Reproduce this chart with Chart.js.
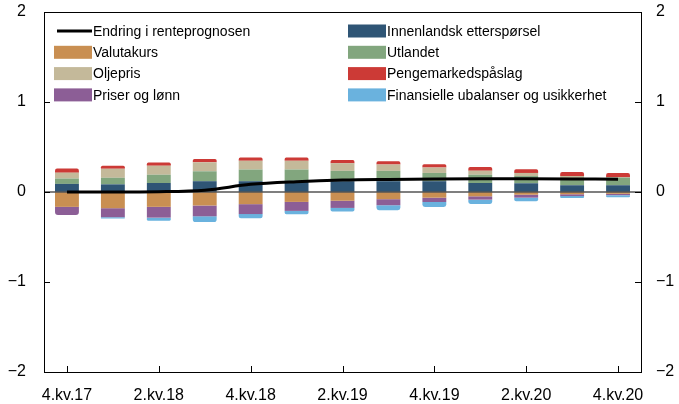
<!DOCTYPE html>
<html>
<head>
<meta charset="utf-8">
<script src="https://cdn.jsdelivr.net/npm/chart.js@4/dist/chart.umd.min.js"></script>
<style>
	body { margin: 0; background: #fff; }
	canvas { display: block; }
</style>
</head>
<body>
<canvas id="chart" width="679" height="404"></canvas>
<script>
const quarters = ['4.kv.17', '1.kv.18', '2.kv.18', '3.kv.18', '4.kv.18', '1.kv.19', '2.kv.19', '3.kv.19', '4.kv.19', '1.kv.20', '2.kv.20', '3.kv.20', '4.kv.20']

const renteprognose = [0, 0, 0.003, 0.02, 0.085, 0.115, 0.133, 0.14, 0.144, 0.146, 0.146, 0.145, 0.143]
const innenlandsk = [0.09, 0.085, 0.1, 0.12, 0.12, 0.125, 0.12, 0.12, 0.12, 0.1, 0.097, 0.075, 0.075]
const utlandet = [0.06, 0.073, 0.092, 0.11, 0.13, 0.125, 0.115, 0.115, 0.092, 0.092, 0.08, 0.078, 0.085]
const oljepris = [0.065, 0.1, 0.1, 0.1, 0.097, 0.097, 0.085, 0.07, 0.06, 0.045, 0.035, 0.025, 0.005]
const pengemarked = [0.045, 0.035, 0.035, 0.037, 0.035, 0.035, 0.035, 0.037, 0.037, 0.04, 0.04, 0.045, 0.045]
const valutakurs = [-0.165, -0.18, -0.165, -0.15, -0.135, -0.11, -0.097, -0.08, -0.063, -0.048, -0.03, -0.025, -0.02]
const priser = [-0.09, -0.1, -0.12, -0.12, -0.11, -0.1, -0.08, -0.067, -0.048, -0.037, -0.033, -0.02, -0.015]
const finansielle = [0, -0.015, -0.035, -0.063, -0.048, -0.037, -0.04, -0.055, -0.055, -0.048, -0.04, -0.022, -0.022]

const yTicks = [-2, -1, 0, 1, 2]

const font = 'Liberation Sans, Arial, sans-serif'

function bar(label, data, color){
	return {
		type: 'bar',
		label: label,
		data: data,
		backgroundColor: color,
		borderRadius: 3,
		barPercentage: 0.52,
		categoryPercentage: 1,
		stack: 'bars',
		order: 1
	}
}

const datasets = [
	{
		type: 'line',
		label: 'Endring i renteprognosen',
		data: renteprognose,
		borderColor: '#000',
		backgroundColor: '#000',
		borderWidth: 3,
		pointRadius: 0,
		cubicInterpolationMode: 'monotone',
		stack: 'line',
		order: 0
	},
	bar('Innenlandsk etterspørsel', innenlandsk, '#2f5575'),
	bar('Utlandet', utlandet, '#82a67e'),
	bar('Oljepris', oljepris, '#c4b99a'),
	bar('Pengemarkedspåslag', pengemarked, '#cc3a36'),
	bar('Valutakurs', valutakurs, '#c98f52'),
	bar('Priser og lønn', priser, '#8c5e96'),
	bar('Finansielle ubalanser og usikkerhet', finansielle, '#6ab2de')
]

const legendCols = [
	['Endring i renteprognosen', 'Valutakurs', 'Oljepris', 'Priser og lønn'],
	['Innenlandsk etterspørsel', 'Utlandet', 'Pengemarkedspåslag', 'Finansielle ubalanser og usikkerhet']
]

const minus = v => String(v).replace('-', '\u2212')

const framePlugin = {
	id: 'frame',
	beforeDatasetDraw(chart, args){
		if(args.index != 0) return
		const ctx = chart.ctx
		const a = chart.chartArea
		const y0 = chart.scales.y.getPixelForValue(0)
		ctx.save()
		ctx.strokeStyle = '#555'
		ctx.lineWidth = 1.5
		ctx.beginPath()
		ctx.moveTo(a.left, y0)
		ctx.lineTo(a.right, y0)
		ctx.stroke()
		ctx.restore()
	},
	afterDraw(chart){
		const ctx = chart.ctx
		const a = chart.chartArea
		const x = chart.scales.x
		const y = chart.scales.y
		ctx.save()
		ctx.strokeStyle = '#000'
		ctx.lineWidth = 1
		ctx.strokeRect(Math.round(a.left) + 0.5, Math.round(a.top) + 0.5, Math.round(a.right - a.left), Math.round(a.bottom - a.top))
		ctx.beginPath()
		yTicks.forEach(v => {
			const py = Math.round(y.getPixelForValue(v)) + 0.5
			ctx.moveTo(a.left, py)
			ctx.lineTo(a.left + 6, py)
			ctx.moveTo(a.right, py)
			ctx.lineTo(a.right - 6, py)
		})
		quarters.forEach((q, i) => {
			if(i % 2 == 0){
				const px = Math.round(x.getPixelForValue(i)) + 0.5
				ctx.moveTo(px, a.bottom)
				ctx.lineTo(px, a.bottom - 6)
			}
		})
		ctx.stroke()

		ctx.font = '14px ' + font
		ctx.textBaseline = 'middle'
		ctx.fillStyle = '#000'
		const colX = [54, 348]
		legendCols.forEach((col, c) => {
			col.forEach((name, r) => {
				const ds = chart.data.datasets.find(d => d.label == name)
				const cy = 31 + r * 21.3
				if(ds.type == 'line'){
					ctx.strokeStyle = ds.borderColor
					ctx.lineWidth = 3
					ctx.beginPath()
					ctx.moveTo(colX[c] + 3, cy)
					ctx.lineTo(colX[c] + 38, cy)
					ctx.stroke()
				} else {
					ctx.fillStyle = ds.backgroundColor
					ctx.fillRect(colX[c], cy - 6.5, 38, 13)
				}
				ctx.fillStyle = '#000'
				ctx.fillText(name, colX[c] + 39, cy + 1)
			})
		})
		ctx.restore()
	}
}

const yTickOpts = {
	stepSize: 1,
	color: '#000',
	font: { size: 16, family: font },
	callback: v => minus(v)
}

function fitY(width){
	return s => {
		s.width = width
		s.paddingTop = 0
		s.paddingBottom = 0
	}
}

new Chart(document.getElementById('chart'), {
	data: {
		labels: quarters,
		datasets: datasets
	},
	options: {
		responsive: false,
		animation: false,
		layout: { padding: { top: 12 } },
		plugins: {
			legend: { display: false },
			tooltip: { enabled: false }
		},
		scales: {
			x: {
				stacked: true,
				offset: true,
				grid: { display: false, drawTicks: false },
				border: { display: false },
				ticks: {
					autoSkip: false,
					maxRotation: 0,
					color: '#000',
					padding: 14,
					font: { size: 16, family: font },
					callback: function(v, i){ return i % 2 == 0 ? this.getLabelForValue(v) : '' }
				},
				afterFit(s){
					s.height = 32
					s.paddingLeft = 0
					s.paddingRight = 0
				}
			},
			y: {
				stacked: true,
				position: 'left',
				min: -2,
				max: 2,
				grid: { display: false, drawTicks: false },
				border: { display: false },
				ticks: { ...yTickOpts, padding: 18 },
				afterFit: fitY(44)
			},
			y2: {
				position: 'right',
				min: -2,
				max: 2,
				grid: { display: false, drawTicks: false },
				border: { display: false },
				ticks: { ...yTickOpts, padding: 15 },
				afterFit: fitY(38)
			}
		}
	},
	plugins: [framePlugin]
})
</script>
</body>
</html>
